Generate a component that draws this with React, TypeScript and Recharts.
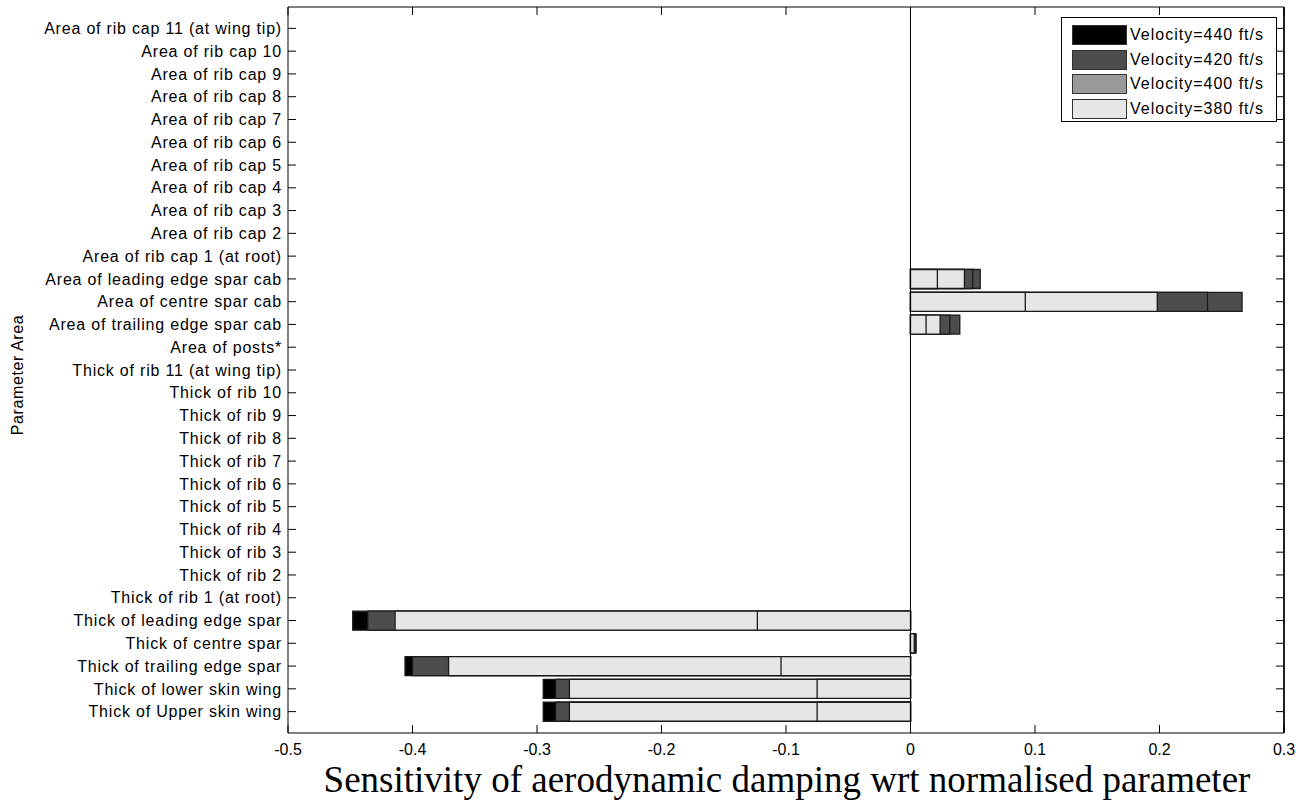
import { BarChart, Bar, XAxis, YAxis, Cell, ReferenceLine } from 'recharts';

const params = [
  'Area of rib cap 11 (at wing tip)',
  'Area of rib cap 10',
  'Area of rib cap 9',
  'Area of rib cap 8',
  'Area of rib cap 7',
  'Area of rib cap 6',
  'Area of rib cap 5',
  'Area of rib cap 4',
  'Area of rib cap 3',
  'Area of rib cap 2',
  'Area of rib cap 1 (at root)',
  'Area of leading edge spar cab',
  'Area of centre spar cab',
  'Area of trailing edge spar cab',
  'Area of posts*',
  'Thick of rib 11 (at wing tip)',
  'Thick of rib 10',
  'Thick of rib 9',
  'Thick of rib 8',
  'Thick of rib 7',
  'Thick of rib 6',
  'Thick of rib 5',
  'Thick of rib 4',
  'Thick of rib 3',
  'Thick of rib 2 ',
  'Thick of rib 1 (at root)',
  'Thick of leading edge spar',
  'Thick of centre spar',
  'Thick of trailing edge spar',
  'Thick of lower skin wing',
  'Thick of Upper skin wing',
];

// one value per parameter, same order as params
const v440 = [0, 0, 0, 0, 0, 0, 0, 0, 0, 0, 0, 0.056, 0.2663, 0.0396, 0, 0, 0, 0, 0, 0, 0, 0, 0, 0, 0, 0, -0.448, 0.0045, -0.406, -0.295, -0.295];
const v420 = [0, 0, 0, 0, 0, 0, 0, 0, 0, 0, 0, 0.050, 0.2385, 0.0316, 0, 0, 0, 0, 0, 0, 0, 0, 0, 0, 0, 0, -0.436, 0.004, -0.400, -0.285, -0.285];
const v400 = [0, 0, 0, 0, 0, 0, 0, 0, 0, 0, 0, 0.0433, 0.1982, 0.0238, 0, 0, 0, 0, 0, 0, 0, 0, 0, 0, 0, 0, -0.414, 0.0035, -0.371, -0.274, -0.274];
const v380 = [0, 0, 0, 0, 0, 0, 0, 0, 0, 0, 0, 0.0216, 0.0922, 0.0125, 0, 0, 0, 0, 0, 0, 0, 0, 0, 0, 0, 0, -0.123, 0.003, -0.104, -0.075, -0.075];

const xTicks = [-0.5, -0.4, -0.3, -0.2, -0.1, 0, 0.1, 0.2, 0.3];

const legendItems = [
  { label: 'Velocity=440 ft/s', color: '#000000' },
  { label: 'Velocity=420 ft/s', color: '#4d4d4d' },
  { label: 'Velocity=400 ft/s', color: '#999999' },
  { label: 'Velocity=380 ft/s', color: '#e6e6e6' },
];

const data = params.map((name, i) => ({
  name,
  v440: v440[i],
  v420: v420[i],
  v400: v400[i],
  v380: v380[i],
}));

const sans = '"Liberation Sans", Arial, sans-serif';
const narrow = '"Liberation Sans Narrow", "Liberation Sans", Arial, sans-serif';
const tickFont = { fontSize: 16, fill: '#000', fontFamily: sans, letterSpacing: 0.8 };
const pad = { top: 10, bottom: 10 };
const noLabel = () => <g />;

export default function App() {
  return (
    <div style={{ position: 'fixed', left: 0, top: 0, width: 1296, height: 802, background: '#fff' }}>
      <BarChart
        width={1296}
        height={802}
        data={data}
        layout="vertical"
        margin={{ top: 6, right: 11, bottom: 0, left: 0 }}
      >
        <XAxis
          type="number"
          domain={[-0.5, 0.3]}
          ticks={xTicks}
          interval={0}
          allowDataOverflow
          height={69}
          stroke="#000"
          tickSize={-8}
          tickMargin={19}
          tick={{ fontSize: 16, fill: '#000', fontFamily: narrow }}
          label={{
            content: () => (
              <text x={787} y={792} textAnchor="middle" fontFamily='"Liberation Serif", "Times New Roman", serif' fontSize={37} fill="#000">
                Sensitivity of aerodynamic damping wrt normalised parameter
              </text>
            ),
          }}
        />
        <XAxis
          xAxisId="top"
          orientation="top"
          type="number"
          domain={[-0.5, 0.3]}
          ticks={xTicks}
          interval={0}
          allowDataOverflow
          height={1}
          stroke="#000"
          tickSize={-8}
          tick={noLabel}
        />
        <YAxis
          yAxisId="a"
          type="category"
          dataKey="name"
          width={288}
          padding={pad}
          interval={0}
          stroke="#000"
          tickSize={-8}
          tickMargin={14}
          tick={tickFont}
          label={{
            content: () => (
              <text x={23} y={375} textAnchor="middle" transform="rotate(-90 23 375)" fontFamily={sans} fontSize={16} letterSpacing={0.6} fill="#000">
                Parameter Area
              </text>
            ),
          }}
        />
        <YAxis
          yAxisId="b"
          orientation="right"
          type="category"
          dataKey="name"
          width={1}
          padding={pad}
          interval={0}
          stroke="#000"
          tickSize={-8}
          tick={noLabel}
        />
        <YAxis yAxisId="c" type="category" dataKey="name" hide padding={pad} />
        <YAxis yAxisId="d" type="category" dataKey="name" hide padding={pad} />
        <Bar dataKey="v440" yAxisId="a" barSize={19} stroke="#1a1a1a" strokeWidth={1.3} isAnimationActive={false}>
          {data.map((d, i) => (
            <Cell key={i} fill={d.v440 < 0 ? '#000000' : '#4d4d4d'} />
          ))}
        </Bar>
        <Bar dataKey="v420" yAxisId="b" barSize={19} fill="#4d4d4d" stroke="#1a1a1a" strokeWidth={1.3} isAnimationActive={false} />
        <Bar dataKey="v400" yAxisId="c" barSize={19} fill="#e6e6e6" stroke="#1a1a1a" strokeWidth={1.3} isAnimationActive={false} />
        <Bar dataKey="v380" yAxisId="d" barSize={19} fill="#e6e6e6" stroke="#1a1a1a" strokeWidth={1.3} isAnimationActive={false} />
        <ReferenceLine x={0} yAxisId="a" stroke="#000" strokeWidth={1} />
        <ReferenceLine x={0.3} yAxisId="a" stroke="#000" strokeWidth={1.5} />
      </BarChart>
      <div
        style={{
          position: 'absolute',
          left: 1061,
          top: 17,
          width: 216,
          height: 105,
          border: '1px solid #000',
          background: '#fff',
          boxSizing: 'border-box',
          paddingTop: 5,
          paddingLeft: 10,
        }}
      >
        {legendItems.map((it) => (
          <div key={it.label} style={{ display: 'flex', alignItems: 'center', height: 24.5 }}>
            <div style={{ width: 55, height: 20, background: it.color, border: '1px solid #333', boxSizing: 'border-box' }} />
            <span style={{ marginLeft: 3, fontFamily: sans, fontSize: 16, letterSpacing: 1, color: '#000' }}>{it.label}</span>
          </div>
        ))}
      </div>
    </div>
  );
}
